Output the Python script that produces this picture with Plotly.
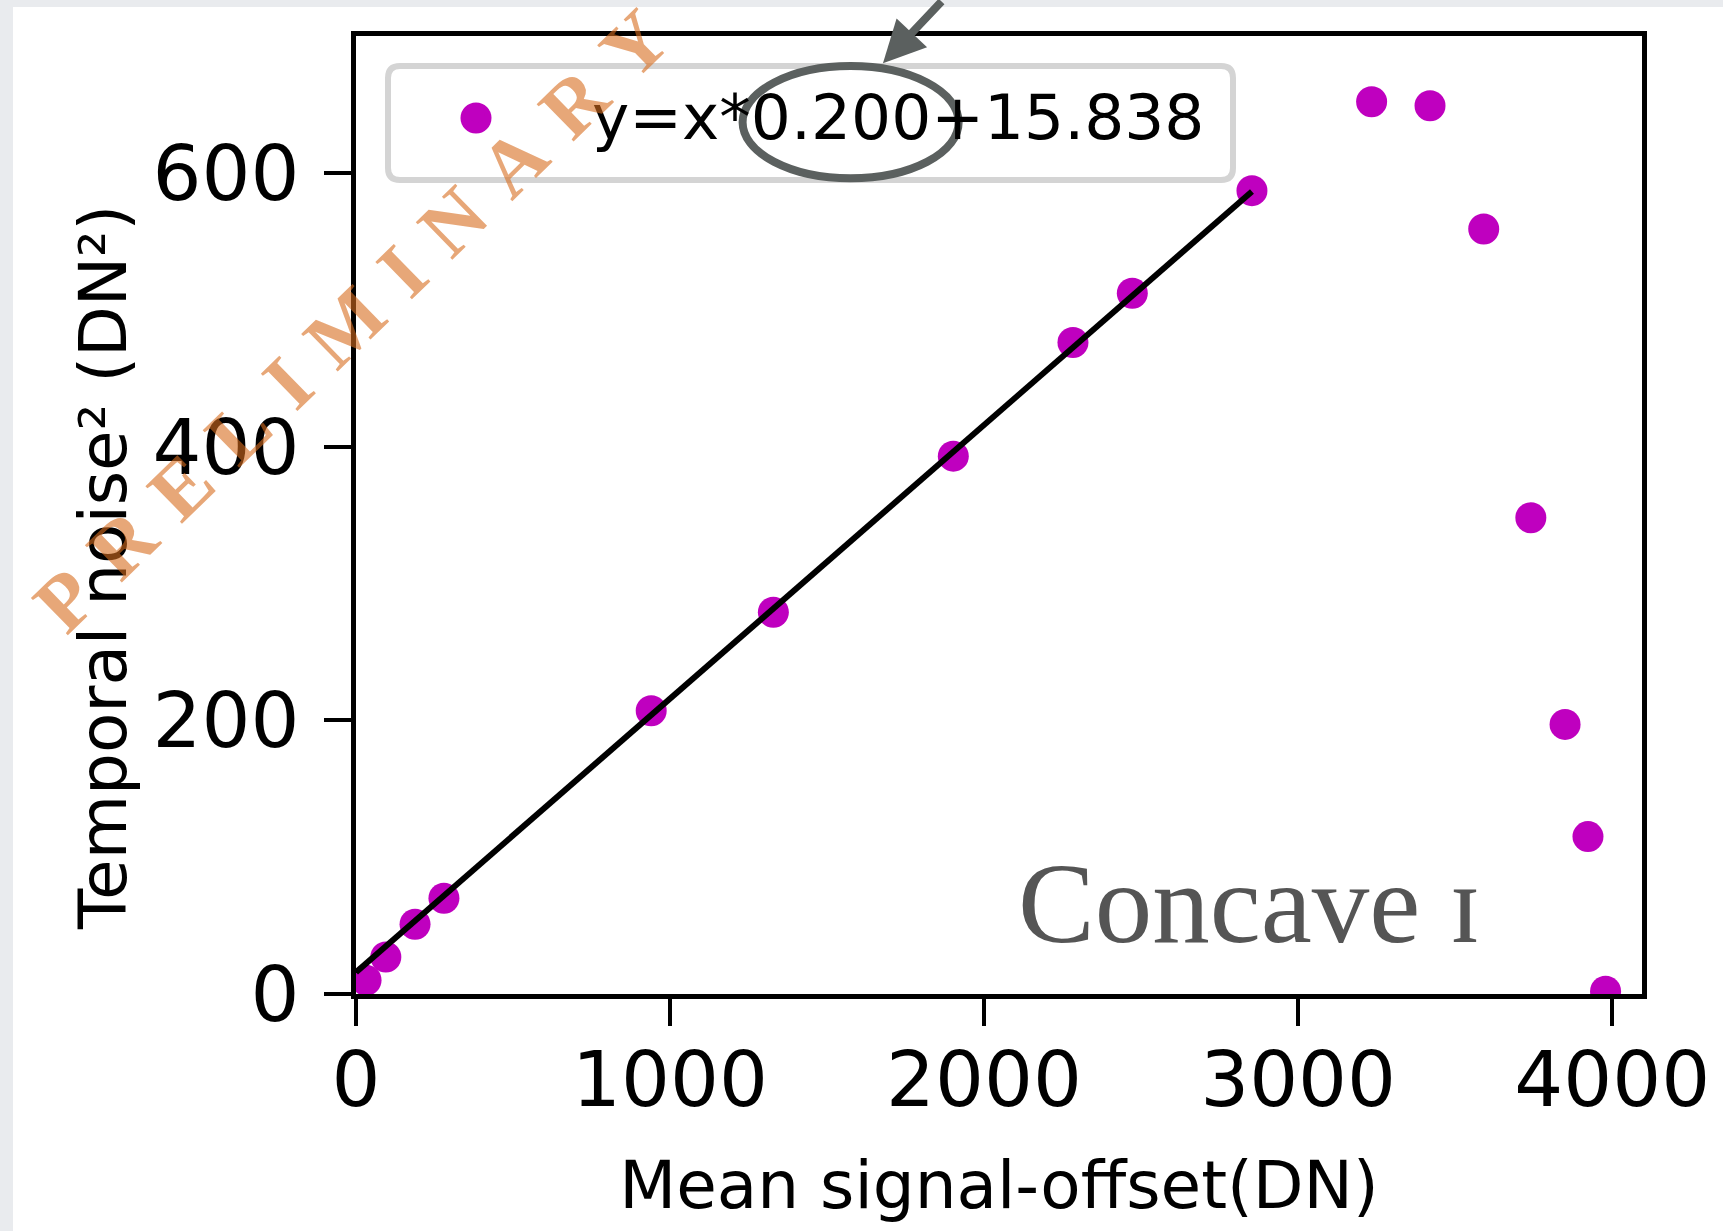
import plotly.graph_objects as go

# ---- data ----
signal = [32, 95, 188, 280, 940, 1329, 1902, 2283, 2472, 2853, 3234, 3420, 3591, 3741, 3850, 3923, 3979]
noise2 = [10, 27, 51, 70, 207, 279, 393, 476, 512, 587, 652, 649, 559, 348, 197, 115, 2]
fit_x = [0, 2853]
fit_y = [15.838, 586.4]
fit_label = "y=x*0.200+15.838"
x_ticks = [0, 1000, 2000, 3000, 4000]
y_ticks = [0, 200, 400, 600]

W, H = 1723, 1231
L, R, T, B = 356, 81, 36, 237
PW, PH = W - L - R, H - T - B


def px(x):
    return (x - L) / PW


def py(y):
    return (H - B - y) / PH


fig = go.Figure()
fig.add_trace(go.Scatter(x=signal, y=noise2, mode="markers", name=fit_label,
                         marker=dict(color="#bf00bf", size=31, line=dict(width=0))))
fig.add_trace(go.Scatter(x=fit_x, y=fit_y, mode="lines", showlegend=False,
                         line=dict(color="black", width=6)))

# white page on grey surround
shapes = [dict(type="rect", xref="paper", yref="paper", x0=px(13), x1=px(W + 50),
               y0=py(H + 50), y1=py(7), fillcolor="white", line=dict(width=0), layer="below")]

# rounded legend frame
x0, x1, y0, y1 = px(388), px(1233), py(180), py(66)
rx, ry = 12 / PW, 12 / PH
path = (f"M{x0+rx},{y1} L{x1-rx},{y1} Q{x1},{y1} {x1},{y1-ry} L{x1},{y0+ry} Q{x1},{y0} {x1-rx},{y0} "
        f"L{x0+rx},{y0} Q{x0},{y0} {x0},{y0+ry} L{x0},{y1-ry} Q{x0},{y1} {x0+rx},{y1} Z")
shapes.append(dict(type="path", xref="paper", yref="paper", path=path,
                   fillcolor="rgba(255,255,255,0.85)", line=dict(color="#d4d4d4", width=6), layer="above"))
# full-size legend marker (plotly caps legend symbols at 16 px)
shapes.append(dict(type="circle", xref="paper", yref="paper", xsizemode="pixel", ysizemode="pixel",
                   xanchor=px(476), yanchor=py(118), x0=-15.5, x1=15.5, y0=-15.5, y1=15.5,
                   fillcolor="#bf00bf", line=dict(width=0), layer="above"))

# ellipse highlight around slope
shapes.append(dict(type="circle", xref="x", yref="y", x0=1231, x1=1919, y0=596, y1=678,
                   line=dict(color="#5b605f", width=8), layer="above"))

watermark = "<b>" + "\u2004".join("PRELIMINARY") + "</b>"

annotations = [
    dict(x=px(103), y=py(568), xref="paper", yref="paper", text="Temporal noise² (DN²)",
         textangle=-90, showarrow=False, font=dict(size=66, color="black"),
         xanchor="center", yanchor="middle"),
    dict(x=px(1249), y=py(903), xref="paper", yref="paper", text="Concave ɪ",
         showarrow=False, font=dict(family="Liberation Serif, DejaVu Serif, serif", size=115, color="#555555"),
         xanchor="center", yanchor="middle"),
    dict(x=1678, y=680, xref="x", yref="y", text="", showarrow=True, ax=60, ay=-128,
         arrowhead=2, arrowsize=1.05, arrowwidth=8, arrowcolor="#5b605f", standoff=0),
    dict(x=px(351), y=py(321), xref="paper", yref="paper",
         text=watermark, textangle=-44.3, showarrow=False,
         font=dict(family="Liberation Serif, DejaVu Serif, serif", size=80, color="rgba(215,108,30,0.6)"),
         xanchor="center", yanchor="middle"),
]

axis_common = dict(showline=True, linecolor="black", linewidth=5, mirror=True,
                   ticks="outside", ticklen=27, tickwidth=4, tickcolor="black", automargin=False,
                   showgrid=False, zeroline=False, tickfont=dict(size=77, color="black"))

fig.update_layout(
    width=W, height=H,
    margin=dict(l=L, r=R, t=T, b=B),
    paper_bgcolor="#e9ebee", plot_bgcolor="white",
    font=dict(family="DejaVu Sans", color="black"),
    xaxis=dict(range=[0, 4095], tickvals=x_ticks, ticklabelstandoff=-12,
               title=dict(text="Mean signal-offset(DN)", font=dict(size=66), standoff=40), **axis_common),
    yaxis=dict(range=[0, 700], tickvals=y_ticks, ticklabelstandoff=9, **axis_common),
    showlegend=True,
    legend=dict(x=px(362), y=py(67), xanchor="left", yanchor="top", bgcolor="rgba(0,0,0,0)",
                borderwidth=0, font=dict(size=63, color="black"), itemwidth=220),
    shapes=shapes, annotations=annotations,
)

fig.write_html("out.html", config={"displayModeBar": False},
               post_script="document.body.style.margin='0';document.body.style.overflow='hidden';"
                           "document.body.style.background='#e9ebee';")
